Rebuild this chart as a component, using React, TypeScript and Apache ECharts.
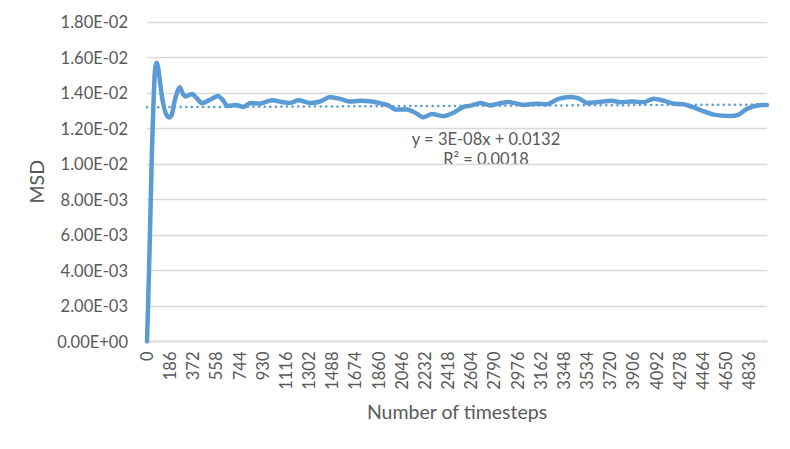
import React, { useEffect, useRef } from "react";
import * as echarts from "echarts";

const steps = [
  0, 10, 20, 28, 36, 44, 52, 60, 68, 78, 90, 105, 120, 140, 160, 180, 200, 220, 245, 265,
  285, 310, 340, 365, 400, 440, 500, 570, 610, 645, 720, 775, 828, 908, 1002, 1095, 1149,
  1216, 1310, 1390, 1470, 1551, 1631, 1711, 1805, 1886, 1939, 1993, 2087, 2154, 2220, 2288,
  2381, 2461, 2541, 2609, 2676, 2756, 2823, 2903, 3024, 3131, 3212, 3305, 3399, 3466, 3533,
  3613, 3734, 3801, 3895, 3988, 4068, 4149, 4229, 4309, 4390, 4457, 4550, 4684, 4751, 4819,
  4899, 4979,
];

const msd = [
  0.0, 0.0024, 0.005, 0.0074, 0.0097, 0.0117, 0.0134, 0.0148, 0.0155, 0.0157, 0.0154, 0.0146,
  0.0138, 0.0131, 0.01272, 0.01262, 0.0128, 0.0135, 0.0141, 0.01432, 0.014, 0.0138, 0.0139,
  0.01394, 0.0137, 0.01342, 0.0136, 0.01383, 0.0136, 0.01327, 0.01332, 0.01321, 0.01344,
  0.0134, 0.01359, 0.01348, 0.01344, 0.01359, 0.01344, 0.01352, 0.01378, 0.01367, 0.01352,
  0.01356, 0.01352, 0.0134, 0.0133, 0.01307, 0.01307, 0.01289, 0.01263, 0.01281, 0.0127,
  0.01289, 0.01322, 0.0133, 0.01344, 0.0133, 0.0134, 0.0135, 0.01333, 0.0134, 0.01337,
  0.01367, 0.01378, 0.0137, 0.01344, 0.01348, 0.01356, 0.01348, 0.01352, 0.01348, 0.01367,
  0.01356, 0.0134, 0.01337, 0.01319, 0.013, 0.01278, 0.0127, 0.01278, 0.01311, 0.0133,
  0.01333,
];

const trendSteps = [0, 4979];
const trendValues = [0.0132, 0.01335];

const equationLines = ["y = 3E-08x + 0.0132", "R² = 0.0018"];
const xTitle = "Number of timesteps";
const yTitle = "MSD";

const FONT = "Lato, 'Open Sans', sans-serif";
const TEXT = "#595959";
const BLUE = "#5b9bd5";

function sci(v: number): string {
  const s = v.toExponential(2).toUpperCase();
  const m = s.match(/^(-?[\d.]+)E([+-])(\d+)$/);
  if (!m) return s;
  return `${m[1]}E${m[2]}${m[3].padStart(2, "0")}`;
}

export default function App() {
  const ref = useRef<HTMLDivElement>(null);
  useEffect(() => {
    if (!ref.current) return;
    const chart = echarts.init(ref.current, undefined, { renderer: "svg" });
    chart.setOption({
      animation: false,
      backgroundColor: "#ffffff",
      textStyle: { fontFamily: FONT },
      grid: { left: 147, right: 23, top: 22, bottom: 107.5, containLabel: false },
      xAxis: {
        type: "value",
        min: 0,
        max: trendSteps[1],
        interval: 186,
        name: xTitle,
        nameLocation: "middle",
        nameGap: 60,
        nameTextStyle: { color: TEXT, fontSize: 19.5, fontFamily: FONT },
        axisLine: { show: true, lineStyle: { color: "#d9d9d9", width: 1.3 } },
        axisTick: { show: false },
        splitLine: { show: false },
        axisLabel: {
          rotate: 90,
          color: TEXT,
          fontSize: 16.5,
          fontFamily: FONT,
          margin: 10,
          showMaxLabel: false,
          formatter: (v: number) => String(v),
        },
      },
      yAxis: {
        type: "value",
        min: 0,
        max: 0.018,
        interval: 0.002,
        name: yTitle,
        nameLocation: "middle",
        nameGap: 93,
        nameTextStyle: { color: TEXT, fontSize: 19.5, fontFamily: FONT },
        axisLine: { show: false },
        axisTick: { show: false },
        splitLine: { show: true, lineStyle: { color: "#d9d9d9", width: 1.3 } },
        axisLabel: {
          color: TEXT,
          fontSize: 16.5,
          fontFamily: FONT,
          margin: 19,
          formatter: (v: number) => sci(v),
        },
      },
      graphic: [
        {
          type: "text",
          x: 486,
          y: 138.5,
          style: {
            text: equationLines[0],
            fill: TEXT,
            font: `16.5px ${FONT}`,
            align: "center",
            verticalAlign: "middle",
          },
        },
        {
          type: "text",
          x: 486,
          y: 158.5,
          style: {
            text: equationLines[1],
            fill: TEXT,
            font: `16.5px ${FONT}`,
            align: "center",
            verticalAlign: "middle",
          },
        },
      ],
      series: [
        {
          type: "line",
          data: trendSteps.map((s, i) => [s, trendValues[i]]),
          symbol: "none",
          silent: true,
          lineStyle: { color: BLUE, width: 2.5, type: [0.1, 5.5], cap: "round" },
          z: 1,
        },
        {
          type: "line",
          data: steps.map((s, i) => [s, msd[i]]),
          symbol: "none",
          smooth: 0.2,
          lineStyle: { color: BLUE, width: 4.5, cap: "round", join: "round" },
          z: 2,
        },
      ],
    });
    return () => chart.dispose();
  }, []);
  return (
    <div
      ref={ref}
      style={{ position: "absolute", left: 0, top: 0, width: 790, height: 449 }}
    />
  );
}
